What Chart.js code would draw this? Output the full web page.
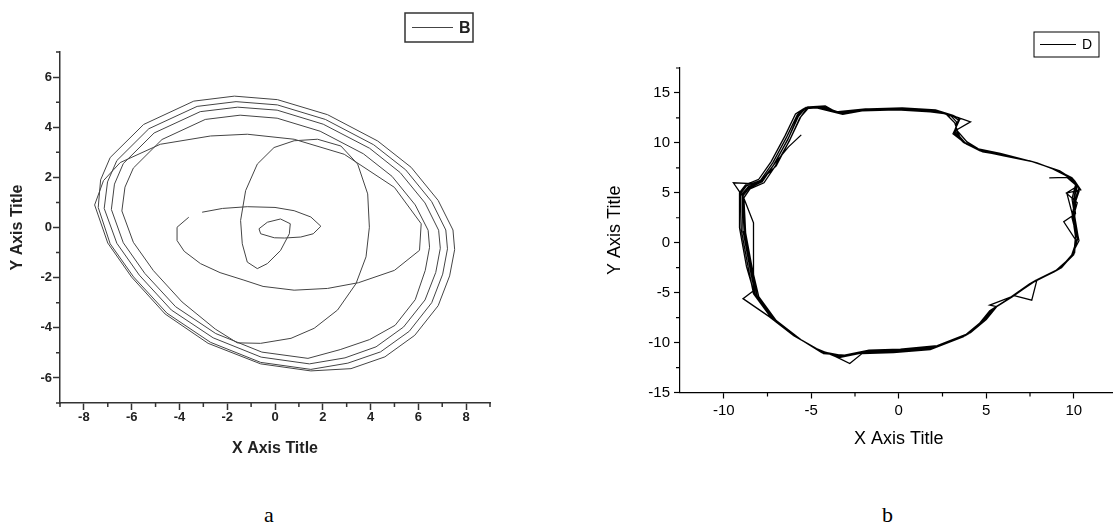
<!DOCTYPE html>
<html>
<head>
<meta charset="utf-8">
<script src="https://cdn.jsdelivr.net/npm/chart.js@4.4.0/dist/chart.umd.min.js"></script>
<style>
  html, body { margin: 0; padding: 0; width: 1113px; height: 528px; overflow: hidden; background: #fff; }
  #wrapA { position: absolute; left: 0; top: 0; width: 500px; height: 470px; }
  #wrapB { position: absolute; left: 560px; top: 0; width: 560px; height: 470px; }
  .cap { position: absolute; top: 503px; line-height: 24px; font-size: 22px; font-family: "Liberation Serif", "Times New Roman", serif; color: #000; }
</style>
</head>
<body>
<div id="wrapA"><canvas id="chartA" width="500" height="470"></canvas></div>
<div id="wrapB"><canvas id="chartB" width="560" height="470"></canvas></div>
<div class="cap" style="left:264px">a</div>
<div class="cap" style="left:882px">b</div>
<script>
// ---------- panel a : series B ----------
const bXTicks = [-8, -6, -4, -2, 0, 2, 4, 6, 8];
const bYTicks = [-6, -4, -2, 0, 2, 4, 6];
const bXMinor = [-9, -7, -5, -3, -1, 1, 3, 5, 7, 9];
const bYMinor = [-7, -5, -3, -1, 1, 3, 5, 7];

// small ellipse, tiny loop and the tall loop
const bInner = [
  [-3.05, 0.61], [-2.2, 0.76], [-1.16, 0.83], [0.0, 0.8], [0.8, 0.67], [1.5, 0.42], [1.92, 0.05],
  [1.6, -0.25], [1.08, -0.38], [0.4, -0.42], [-0.03, -0.41], [-0.6, -0.25], [-0.67, -0.05],
  [-0.32, 0.21], [0.23, 0.34], [0.64, 0.15], [0.6, -0.25], [0.23, -0.92], [-0.32, -1.44],
  [-0.74, -1.64], [-1.16, -1.38], [-1.37, -0.65], [-1.44, 0.28], [-1.23, 1.47], [-0.74, 2.53],
  [-0.04, 3.19], [0.8, 3.46], [1.78, 3.52], [2.76, 3.25], [3.46, 2.53], [3.88, 1.34], [3.95, 0.01],
  [3.81, -1.17], [3.39, -2.24], [2.62, -3.29], [1.64, -4.02], [0.67, -4.42], [-0.6, -4.62], [-1.58, -4.6]
];
const bLoop1 = [
  [-2.5, -4.05], [-3.89, -2.97], [-5.09, -1.72], [-5.93, -0.59], [-6.41, 0.66], [-6.28, 1.61],
  [-5.93, 2.37], [-4.73, 3.51], [-2.92, 4.31], [-1.46, 4.48], [0.09, 4.36], [1.89, 3.84], [3.7, 2.94],
  [4.9, 2.04], [5.87, 0.9], [6.41, -0.11], [6.47, -0.79], [6.29, -1.71], [5.87, -2.88], [5.03, -3.9],
  [3.96, -4.47], [2.73, -4.87]
];
const bLoop2 = [
  [1.38, -5.22], [-0.55, -4.97], [-2.48, -4.23], [-4.16, -3.16], [-5.45, -1.83], [-6.35, -0.61],
  [-6.85, 0.72], [-6.72, 1.73], [-6.35, 2.55], [-5.06, 3.77], [-3.13, 4.62], [-1.56, 4.8], [0.09, 4.68],
  [2.02, 4.12], [3.96, 3.16], [5.24, 2.19], [6.28, 0.98], [6.85, -0.11], [6.92, -0.83], [6.73, -1.79],
  [6.28, -2.89], [5.38, -3.97], [4.23, -4.76], [2.93, -5.2]
];
const bLoop3 = [
  [1.44, -5.44], [-0.58, -5.17], [-2.59, -4.4], [-4.34, -3.29], [-5.68, -1.9], [-6.62, -0.63],
  [-7.15, 0.76], [-7.01, 1.82], [-6.62, 2.67], [-5.28, 3.94], [-3.26, 4.83], [-1.63, 5.02], [0.1, 4.89],
  [2.11, 4.31], [4.13, 3.3], [5.47, 2.3], [6.56, 1.03], [7.15, -0.1], [7.22, -0.85], [7.02, -1.86],
  [6.56, -3.0], [5.62, -4.14], [4.42, -4.96], [3.05, -5.41]
];
const bLoop4 = [
  [1.5, -5.66], [-0.6, -5.38], [-2.7, -4.58], [-4.52, -3.42], [-5.92, -1.97], [-6.9, -0.65],
  [-7.4, 0.8], [-7.3, 1.9], [-6.9, 2.79], [-5.5, 4.11], [-3.4, 5.04], [-1.7, 5.24], [0.1, 5.1],
  [2.2, 4.5], [4.3, 3.45], [5.7, 2.4], [6.83, 1.08], [7.45, -0.1], [7.52, -0.88], [7.31, -1.93],
  [6.83, -3.12], [5.85, -4.3], [4.6, -5.16], [3.18, -5.63]
];
// last outer sweep, then the middle ellipse back towards the centre
const bOuter = [
  [1.5, -5.72], [-0.6, -5.44], [-2.8, -4.62], [-4.6, -3.45], [-6.0, -1.98], [-7.0, -0.62],
  [-7.55, 0.9], [-7.18, 1.87], [-6.48, 2.59], [-4.8, 3.32], [-2.7, 3.65], [-1.16, 3.72], [0.8, 3.52],
  [2.9, 2.92], [5.0, 1.6], [6.12, 0.15], [6.05, -0.91], [5.0, -1.71], [3.5, -2.2], [2.2, -2.43],
  [0.8, -2.5], [-0.5, -2.35], [-1.3, -2.1], [-2.3, -1.8], [-3.12, -1.44], [-3.8, -0.95], [-4.1, -0.52],
  [-4.1, 0.01], [-3.61, 0.41]
];

// ---------- panel b : series D ----------
const dXTicks = [-10, -5, 0, 5, 10];
const dYTicks = [-15, -10, -5, 0, 5, 10, 15];
const dXMinor = [-7.5, -2.5, 2.5, 7.5, 12.5];
const dYMinor = [-12.5, -7.5, -2.5, 2.5, 7.5, 12.5, 17.5];

const dStart = [
  [8.6, 6.5], [9.6, 6.55], [10.1, 5.8], [9.9, 4.4], [10.05, 2.7], [10.25, 0.6], [9.95, -1.1], [9.2, -2.6],
  [7.8, -3.8], [6.5, -5.4], [5.5, -6.5], [4.9, -7.8], [4.0, -9.1], [2.1, -10.4], [0.1, -10.7],
  [-1.8, -10.85], [-3.2, -11.3], [-4.4, -10.9], [-5.7, -9.6], [-7.1, -7.7], [-8.1, -5.3], [-8.45, -2.7],
  [-8.85, 1.1], [-8.9, 4.7], [-8.55, 5.5], [-7.8, 6.1], [-7.15, 7.8], [-6.35, 10.3], [-5.75, 12.6]
];
const dLoop1 = [
  [-5.3, 13.55], [-4.4, 13.65], [-3.5, 13.0], [-1.8, 13.35], [0.1, 13.45], [2.0, 13.25], [3.0, 12.8],
  [3.4, 12.3], [3.2, 11.0], [3.75, 10.0], [4.7, 9.2], [6.1, 8.75], [7.6, 8.15], [9.1, 7.25], [9.95, 6.4],
  [10.3, 5.5], [10.05, 4.2], [9.9, 2.5], [10.2, 0.4], [9.85, -1.4], [9.0, -2.8], [7.6, -4.0], [6.3, -5.6],
  [5.3, -6.7], [4.7, -8.0], [3.8, -9.3], [1.9, -10.6], [-0.2, -10.9], [-2.0, -11.0], [-3.4, -11.5],
  [-4.6, -10.7], [-5.9, -9.4], [-7.3, -7.5], [-8.3, -5.1], [-8.6, -2.5], [-9.0, 1.3], [-9.05, 4.9],
  [-8.7, 5.7], [-7.9, 6.25], [-7.2, 8.0], [-6.4, 10.6], [-5.8, 12.8]
];
const dLoop2 = [
  [-5.4, 13.45], [-4.6, 13.55], [-3.3, 12.9], [-2.0, 13.25], [0.0, 13.35], [1.9, 13.15], [2.8, 12.9],
  [4.1, 12.1], [3.3, 11.3], [3.6, 10.2], [4.5, 9.35], [5.9, 8.85], [7.8, 8.05], [8.9, 7.35], [9.8, 6.55],
  [10.2, 5.65], [9.6, 5.0], [9.9, 3.0], [10.1, 0.6], [10.0, -1.2], [9.2, -2.6], [7.8, -3.8], [6.5, -5.4],
  [5.5, -6.5], [4.9, -7.85], [4.0, -9.1], [2.1, -10.4], [0.0, -10.75], [-1.8, -10.8], [-3.2, -11.35],
  [-4.4, -11.0], [-5.7, -9.6], [-7.1, -7.7], [-8.1, -5.3], [-8.4, -2.7], [-8.8, 1.1], [-8.9, 4.6],
  [-9.45, 6.0], [-8.1, 5.9], [-7.0, 7.7], [-6.2, 10.4], [-5.6, 12.6]
];
const dLoop3 = [
  [-5.2, 13.6], [-4.3, 13.6], [-3.4, 13.05], [-1.7, 13.4], [0.2, 13.5], [2.1, 13.3], [3.1, 12.75],
  [3.5, 12.4], [3.1, 10.9], [3.85, 9.9], [4.8, 9.1], [6.2, 8.7], [7.5, 8.2], [9.2, 7.2], [10.0, 6.3],
  [10.35, 5.4], [10.1, 4.1], [10.05, 2.3], [10.3, 0.2], [9.8, -1.5], [8.9, -2.9], [7.5, -4.1], [6.2, -5.7],
  [5.2, -6.8], [4.6, -8.1], [3.7, -9.4], [1.8, -10.7], [-0.3, -11.0], [-2.1, -11.1], [-2.8, -12.1],
  [-3.6, -11.4], [-4.7, -10.6], [-6.0, -9.3], [-7.4, -7.4], [-8.9, -5.6], [-8.3, -4.8], [-8.7, -2.4],
  [-9.1, 1.5], [-9.1, 5.0], [-8.75, 5.8], [-8.0, 6.35], [-7.3, 8.1], [-6.5, 10.7], [-5.9, 12.9]
];
const dLoop4 = [
  [-5.45, 13.4], [-4.7, 13.5], [-3.2, 12.85], [-2.1, 13.2], [-0.1, 13.3], [1.8, 13.1], [2.7, 12.9],
  [3.2, 12.0], [3.35, 11.2], [3.9, 10.1], [4.55, 9.4], [5.8, 8.95], [7.9, 8.0], [8.8, 7.4], [9.7, 6.6],
  [10.15, 5.75], [10.0, 4.4], [10.1, 2.9], [9.43, 2.1], [10.1, 0.3], [10.05, -1.0], [9.3, -2.5],
  [7.9, -3.7], [7.6, -5.75], [6.6, -5.3], [5.2, -6.25], [5.6, -6.4], [5.0, -7.7], [4.1, -9.0],
  [2.2, -10.3], [0.1, -10.65], [-1.7, -10.75], [-3.1, -11.25], [-4.3, -11.1], [-5.6, -9.7], [-7.0, -7.8],
  [-8.0, -5.4], [-8.35, -2.8], [-8.75, 1.0], [-8.85, 4.5], [-8.5, 5.4], [-7.7, 6.0], [-7.05, 7.7],
  [-6.25, 10.2], [-5.65, 12.5]
];
const dLoop5 = [
  [-5.1, 13.6], [-4.2, 13.7], [-3.6, 13.1], [-1.9, 13.4], [0.0, 13.45], [2.0, 13.3], [2.95, 12.7],
  [3.45, 12.5], [3.15, 11.0], [3.7, 10.05], [4.65, 9.2], [6.0, 8.7], [7.7, 8.1], [9.0, 7.3], [10.05, 6.2],
  [10.4, 5.3], [9.58, 4.96], [10.2, 4.0], [9.95, 2.4], [10.25, 0.5], [9.9, -1.3], [9.05, -2.75],
  [7.7, -3.95], [6.35, -5.55], [5.35, -6.65], [4.75, -7.95], [3.85, -9.25], [1.95, -10.55], [-0.1, -10.85],
  [-1.95, -10.95], [-3.35, -11.45], [-4.5, -10.8], [-5.8, -9.5], [-7.2, -7.6], [-8.25, -5.0], [-8.3, -3.0],
  [-8.3, 2.0], [-8.95, 4.9], [-8.6, 5.6], [-7.85, 6.2], [-7.1, 7.9], [-6.3, 10.5], [-5.75, 12.75]
];
const dLoop6 = [
  [-5.35, 13.5], [-4.5, 13.6], [-3.4, 12.95], [-1.85, 13.3], [0.05, 13.4], [2.0, 13.2], [2.9, 12.85],
  [3.3, 12.1], [3.25, 11.1], [3.8, 10.0], [4.6, 9.25], [6.0, 8.8], [7.7, 8.1], [9.0, 7.3], [9.9, 6.5],
  [10.2, 5.6], [10.0, 4.3], [10.0, 2.6], [10.2, 0.5], [9.9, -1.3], [9.1, -2.7], [7.7, -3.9], [6.4, -5.5],
  [5.4, -6.6], [4.8, -7.9], [3.9, -9.2], [2.0, -10.5], [-0.1, -10.8], [-1.9, -10.9], [-3.3, -11.4],
  [-4.5, -10.8], [-5.8, -9.5], [-7.2, -7.6], [-8.2, -5.2], [-8.5, -2.6], [-8.9, 1.2], [-8.95, 4.8],
  [-8.6, 5.6], [-7.8, 6.2], [-7.1, 7.9], [-6.3, 9.6], [-5.57, 10.8]
];

const seriesB = [].concat(bInner, bLoop1, bLoop2, bLoop3, bLoop4, bOuter);
const seriesD = [].concat(dStart, dLoop1, dLoop2, dLoop3, dLoop4, dLoop5, dLoop6);

const SANS = '"Liberation Sans", Arial, sans-serif';
Chart.defaults.font.family = SANS;

// short unlabeled ticks between the labeled ones
const minorTicks = {
  id: 'minorTicks',
  afterDraw(chart, args, o) {
    const { x, y } = chart.scales;
    const ctx = chart.ctx;
    ctx.save();
    ctx.strokeStyle = o.color;
    ctx.lineWidth = o.width;
    ctx.beginPath();
    o.xs.forEach(v => {
      const p = x.getPixelForValue(v);
      ctx.moveTo(p, x.top);
      ctx.lineTo(p, x.top + o.length);
    });
    o.ys.forEach(v => {
      const p = y.getPixelForValue(v);
      ctx.moveTo(y.right, p);
      ctx.lineTo(y.right - o.length, p);
    });
    ctx.stroke();
    ctx.restore();
  }
};

// Origin-style framed legend
const boxLegend = {
  id: 'boxLegend',
  afterDraw(chart, args, o) {
    const ctx = chart.ctx;
    const ds = chart.data.datasets[0];
    const mid = o.y + o.h / 2;
    ctx.save();
    ctx.strokeStyle = o.border;
    ctx.lineWidth = o.borderWidth;
    ctx.strokeRect(o.x, o.y, o.w, o.h);
    ctx.strokeStyle = ds.borderColor;
    ctx.lineWidth = o.lineWidth;
    ctx.beginPath();
    ctx.moveTo(o.x + o.lineFrom, mid);
    ctx.lineTo(o.x + o.lineTo, mid);
    ctx.stroke();
    ctx.fillStyle = o.color;
    ctx.font = o.font;
    ctx.textAlign = 'left';
    ctx.textBaseline = 'middle';
    ctx.fillText(ds.label, o.x + o.textX, mid + 1);
    ctx.restore();
  }
};

function axis(opt) {
  return {
    type: 'linear',
    min: opt.min,
    max: opt.max,
    afterBuildTicks: s => { s.ticks = opt.ticks.map(v => ({ value: v })); },
    afterFit: opt.fit,
    ticks: { font: opt.tickFont, color: opt.color, padding: opt.pad, maxRotation: 0, autoSkip: false },
    grid: { drawOnChartArea: false, tickLength: opt.tickLen, tickColor: opt.axisColor, tickWidth: opt.axisWidth },
    border: { color: opt.axisColor, width: opt.axisWidth },
    title: { display: true, text: opt.title, font: opt.titleFont, color: opt.color, padding: opt.titlePad }
  };
}

new Chart(document.getElementById('chartA'), {
  type: 'scatter',
  data: {
    datasets: [{
      label: 'B',
      data: seriesB.map(([x, y]) => ({ x, y })),
      showLine: true,
      pointRadius: 0,
      borderColor: '#444',
      borderWidth: 1,
      tension: 0
    }]
  },
  options: {
    responsive: false,
    animation: false,
    devicePixelRatio: 1,
    layout: { padding: { top: 52, right: 10, left: 0, bottom: 0 } },
    scales: {
      x: axis({
        min: -9, max: 9, ticks: bXTicks, fit: s => { s.height = 67; },
        tickFont: { size: 13, weight: 'bold' }, color: '#222', pad: 0, tickLen: 7,
        axisColor: '#333', axisWidth: 1.5, title: 'X Axis Title',
        titleFont: { size: 16, weight: 'bold' }, titlePad: { top: 0, bottom: 12 }
      }),
      y: axis({
        min: -7, max: 7, ticks: bYTicks, fit: s => { s.width = 60; },
        tickFont: { size: 13, weight: 'bold' }, color: '#222', pad: 1, tickLen: 7,
        axisColor: '#333', axisWidth: 1.5, title: 'Y Axis Title',
        titleFont: { size: 16, weight: 'bold' }, titlePad: { top: 8, bottom: 0 }
      })
    },
    plugins: {
      legend: { display: false },
      tooltip: { enabled: false },
      minorTicks: { xs: bXMinor, ys: bYMinor, length: 4, color: '#333', width: 1.5 },
      boxLegend: {
        x: 405, y: 13, w: 68, h: 29, border: '#333', borderWidth: 1.5, lineWidth: 1,
        lineFrom: 7, lineTo: 48, textX: 54, font: 'bold 16px ' + SANS, color: '#222'
      }
    }
  },
  plugins: [minorTicks, boxLegend]
});

new Chart(document.getElementById('chartB'), {
  type: 'scatter',
  data: {
    datasets: [{
      label: 'D',
      data: seriesD.map(([x, y]) => ({ x, y })),
      showLine: true,
      pointRadius: 0,
      borderColor: '#000',
      borderWidth: 1.3,
      tension: 0
    }]
  },
  options: {
    responsive: false,
    animation: false,
    devicePixelRatio: 1,
    layout: { padding: { top: 68, right: 2.5, left: 0, bottom: 0 } },
    scales: {
      x: axis({
        min: -12.5, max: 12.5, ticks: dXTicks, fit: s => { s.height = 77.5; },
        tickFont: { size: 15 }, color: '#000', pad: 3.5, tickLen: 6,
        axisColor: '#000', axisWidth: 1.2, title: 'X Axis Title',
        titleFont: { size: 18 }, titlePad: { top: 0, bottom: 20 }
      }),
      y: axis({
        min: -15, max: 17.5, ticks: dYTicks, fit: s => { s.width = 120; },
        tickFont: { size: 15 }, color: '#000', pad: 4, tickLen: 6,
        axisColor: '#000', axisWidth: 1.2, title: 'Y Axis Title',
        titleFont: { size: 18 }, titlePad: { top: 44, bottom: 0 }
      })
    },
    plugins: {
      legend: { display: false },
      tooltip: { enabled: false },
      minorTicks: { xs: dXMinor, ys: dYMinor, length: 4, color: '#000', width: 1.2 },
      boxLegend: {
        x: 474, y: 32, w: 65, h: 25, border: '#000', borderWidth: 1, lineWidth: 1,
        lineFrom: 6, lineTo: 42, textX: 48, font: '14px ' + SANS, color: '#000'
      }
    }
  },
  plugins: [minorTicks, boxLegend]
});
</script>
</body>
</html>
